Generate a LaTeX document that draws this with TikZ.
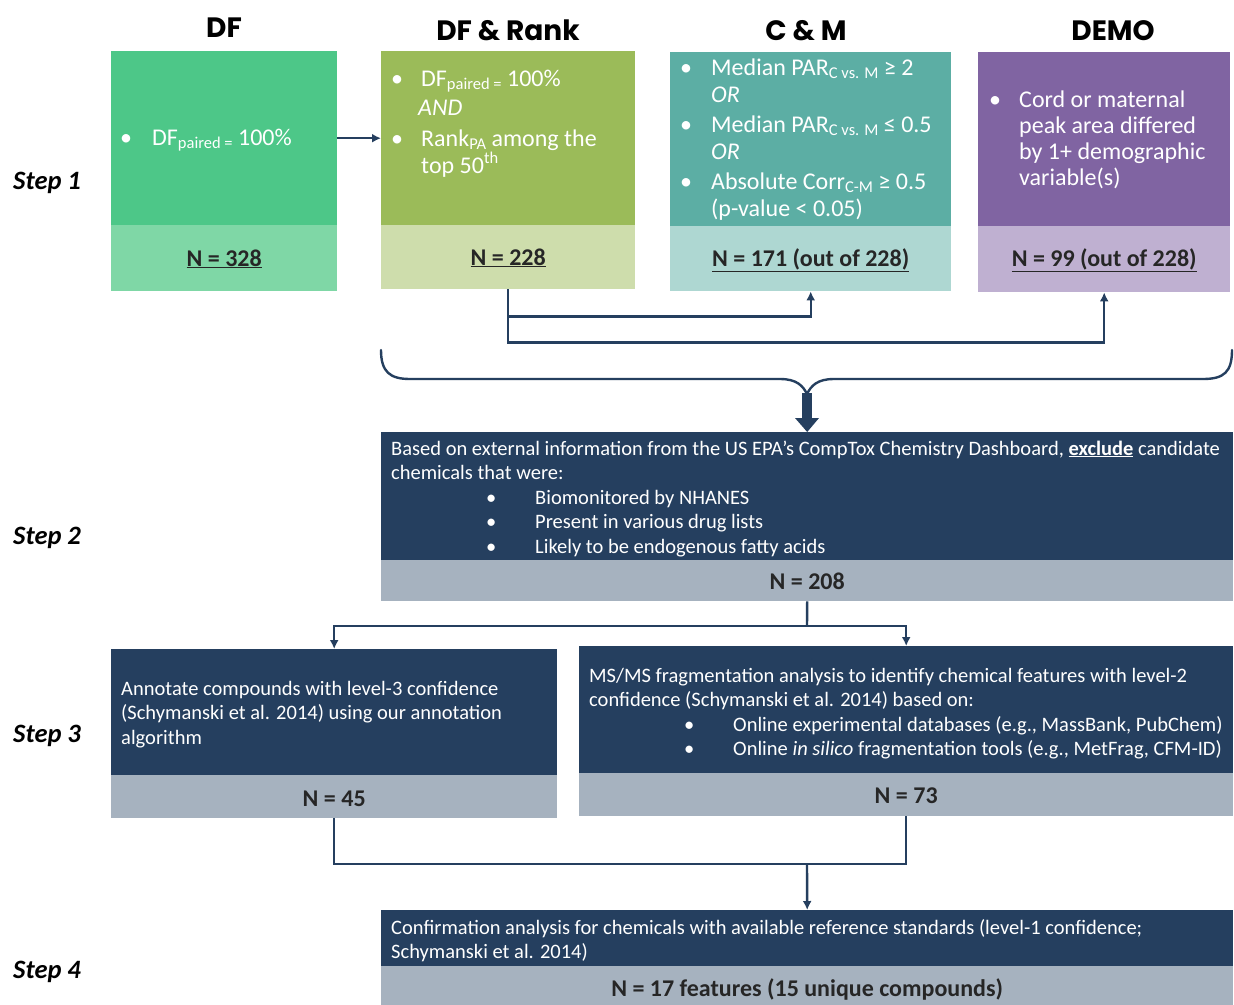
\documentclass[tikz,border=0pt]{standalone}
\usepackage{fontspec}
\setmainfont{Carlito}
\newfontfamily\hdfont{Poppins}
\newfontfamily\condfont{Carlito}
\usetikzlibrary{arrows.meta,calc}
\definecolor{navy}{HTML}{253F5F}
\definecolor{grayb}{HTML}{A6B2BF}
\definecolor{dftopc}{HTML}{4DC788}
\definecolor{dfbotc}{HTML}{7FD7A6}
\definecolor{rktopc}{HTML}{9BBB59}
\definecolor{rkbotc}{HTML}{CEDDAC}
\definecolor{cmtopc}{HTML}{5CAEA4}
\definecolor{cmbotc}{HTML}{AED7D2}
\definecolor{dmtopc}{HTML}{8064A2}
\definecolor{dmbotc}{HTML}{BFB0D1}
\definecolor{ntext}{HTML}{262626}
\newcommand{\mysub}[1]{\raisebox{-0.3ex}{\fontsize{16.5}{16.5}\selectfont #1}}
\newcommand{\mysup}[1]{\raisebox{0.85ex}{\fontsize{16.5}{16.5}\selectfont #1}}
\newcommand{\nline}[1]{\underline{#1}}
\begin{document}
\begin{tikzpicture}[x=1pt,y=-1pt,
  boxr/.style={draw=none,inner sep=0,anchor=north west},
  hd/.style={font=\hdfont\bfseries\fontsize{28}{32}\selectfont,anchor=base,inner sep=0},
  wt/.style={font=\fontsize{24}{28}\selectfont,text=white,anchor=base west,inner sep=0},
  nt/.style={font=\bfseries\fontsize{24}{28}\selectfont,text=ntext,anchor=base,inner sep=0},
  ct/.style={font=\condfont\fontsize{20.5}{24}\selectfont,text=white,anchor=base west,inner sep=0},
  cn/.style={font=\condfont\bfseries\fontsize{24}{28}\selectfont,text=ntext,anchor=base,inner sep=0},
  steplbl/.style={font=\bfseries\itshape\fontsize{26.5}{30}\selectfont,anchor=base west,inner sep=0},
  conn/.style={draw=navy,line width=2.4pt},
  arr/.style={conn,-{Latex[length=9pt,width=9pt]}}
]
\useasboundingbox (0,0) rectangle (1234,1004);
\fill[white] (0,0) rectangle (1234,1004);

% Step labels
\node[steplbl] (st1) at (13,189) {Step 1};
\node[steplbl] (st2) at (13,544) {Step 2};
\node[steplbl] (st3) at (13,742) {Step 3};
\node[steplbl] (st4) at (13,978) {Step 4};

% Headers
\node[hd] (h1) at (224,37) {DF};
\node[hd] (h2) at (508,40) {DF \& Rank};
\node[hd] (h3) at (806,40) {C \& M};
\node[hd] (h4) at (1113,40) {DEMO};

% Step 1 boxes
\node[boxr,fill=dftopc,minimum width=226pt,minimum height=174pt] (dftop) at (111,51) {};
\node[boxr,fill=dfbotc,minimum width=226pt,minimum height=66pt] (dfbot) at (111,225) {};
\node[boxr,fill=rktopc,minimum width=254pt,minimum height=174pt] (rktop) at (381,51) {};
\node[boxr,fill=rkbotc,minimum width=254pt,minimum height=64pt] (rkbot) at (381,225) {};
\node[boxr,fill=cmtopc,minimum width=281pt,minimum height=174pt] (cmtop) at (670,52) {};
\node[boxr,fill=cmbotc,minimum width=281pt,minimum height=65pt] (cmbot) at (670,226) {};
\node[boxr,fill=dmtopc,minimum width=252pt,minimum height=174pt] (dmtop) at (978,52) {};
\node[boxr,fill=dmbotc,minimum width=252pt,minimum height=66pt] (dmbot) at (978,226) {};

% DF text
\node[wt] (dfb1) at (120,145) {•};
\node[wt] (dft1) at (152,145) {DF\mysub{paired =} 100\%};
\node[nt] (dfn) at (dfbot.center |- 0,266) {\nline{N = 328}};

% Rank text
\node[wt] (rkb1) at (391,86) {•};
\node[wt] (rkt1) at (421,86) {DF\mysub{paired =} 100\%};
\node[wt] (rkt2) at (418,115) {\itshape AND};
\node[wt] (rkb2) at (391,146) {•};
\node[wt] (rkt3) at (421,146) {Rank\mysub{PA} among the};
\node[wt] (rkt4) at (421,173) {top 50\mysup{th}};
\node[nt] (rkn) at (rkbot.center |- 0,265) {\nline{N = 228}};

% C&M text
\node[wt] (cmb1) at (680,75) {•};
\node[wt] (cmt1) at (711,75) {Median PAR\mysub{C vs. M} ≥ 2};
\node[wt] (cmt2) at (711,102) {\itshape OR};
\node[wt] (cmb2) at (680,132) {•};
\node[wt] (cmt3) at (711,132) {Median PAR\mysub{C vs. M} ≤ 0.5};
\node[wt] (cmt4) at (711,159) {\itshape OR};
\node[wt] (cmb3) at (680,189) {•};
\node[wt] (cmt5) at (711,189) {Absolute Corr\mysub{C-M} ≥ 0.5};
\node[wt] (cmt6) at (711,216) {(p-value < 0.05)};
\node[nt] (cmn) at (cmbot.center |- 0,266) {\nline{N = 171 (out of 228)}};

% DEMO text
\node[wt] (dmb1) at (989,107) {•};
\node[wt] (dmt1) at (1019,107) {Cord or maternal};
\node[wt] (dmt2) at (1019,133) {peak area differed};
\node[wt] (dmt3) at (1019,159) {by 1+ demographic};
\node[wt] (dmt4) at (1019,185) {variable(s)};
\node[nt] (dmn) at (dmbot.center |- 0,266) {\nline{N = 99 (out of 228)}};

% Step 1 connectors
\draw[arr] (dftop.east) -- (rktop.west);
\draw[arr] (rkbot.south) |- ($(cmbot.south)+(0,25)$) -- (cmbot.south);
\draw[arr] (rkbot.south) |- ($(dmbot.south)+(0,50)$) -- (dmbot.south);

% Step 2 box
\node[boxr,fill=navy,minimum width=852pt,minimum height=128pt] (s2top) at (381,432) {};
\node[boxr,fill=grayb,minimum width=852pt,minimum height=41pt] (s2bot) at (381,560) {};

% Brace and big arrow
\coordinate (bl) at (381,350);
\coordinate (br) at (1232,350);
\coordinate (bj) at (807,394);
\draw[conn,line cap=round] (bl) .. controls (381,372) and (390,379) .. (410,379) -- (780,379) .. controls (797,379) and (803,386) .. (bj)
  .. controls (811,386) and (817,379) .. (834,379) -- (1203,379) .. controls (1224,379) and (1232,372) .. (br);
\fill[navy] ($(bj)+(-5,-1)$) rectangle ($(bj)+(5,25)$);
\fill[navy] ($(bj)+(-12,24)$) -- ($(bj)+(12,24)$) -- (s2top.north) -- cycle;

\node[ct] (s2t1) at (391,455) {Based on external information from the US EPA’s CompTox Chemistry Dashboard, \textbf{\underline{exclude}} candidate};
\node[ct] (s2t2) at (391,479) {chemicals that were:};
\node[ct] (s2b1) at (486,504) {•};
\node[ct] (s2t3) at (535,504) {Biomonitored by NHANES};
\node[ct] (s2b2) at (486,528) {•};
\node[ct] (s2t4) at (535,528) {Present in various drug lists};
\node[ct] (s2b3) at (486,553) {•};
\node[ct] (s2t5) at (535,553) {Likely to be endogenous fatty acids};
\node[cn] (s2n) at (s2bot.center |- 0,589) {N = 208};

% Step 3 boxes
\node[boxr,fill=navy,minimum width=446pt,minimum height=126pt] (s3ltop) at (111,649) {};
\node[boxr,fill=grayb,minimum width=446pt,minimum height=43pt] (s3lbot) at (111,775) {};
\node[boxr,fill=navy,minimum width=654pt,minimum height=127pt] (s3rtop) at (579,646) {};
\node[boxr,fill=grayb,minimum width=654pt,minimum height=43pt] (s3rbot) at (579,773) {};

\coordinate (split) at (807,626);
\draw[conn] (s2bot.south) -- (split);
\draw[arr] (split) -| (s3ltop.north);
\draw[arr] (split) -| (s3rtop.north);

\node[ct] (s3lt1) at (121,695) {Annotate compounds with level-3 confidence};
\node[ct] (s3lt2) at (121,719) {(Schymanski et al. 2014) using our annotation};
\node[ct] (s3lt3) at (121,744) {algorithm};
\node[cn] (s3ln) at (s3lbot.center |- 0,806) {N = 45};

\node[ct] (s3rt1) at (589,682) {MS/MS fragmentation analysis to identify chemical features with level-2};
\node[ct] (s3rt2) at (589,706) {confidence (Schymanski et al. 2014) based on:};
\node[ct] (s3rb1) at (684,731) {•};
\node[ct] (s3rt3) at (733,731) {Online experimental databases (e.g., MassBank, PubChem)};
\node[ct] (s3rb2) at (684,755) {•};
\node[ct] (s3rt4) at (733,755) {Online \textit{in silico} fragmentation tools (e.g., MetFrag, CFM-ID)};
\node[cn] (s3rn) at (s3rbot.center |- 0,803) {N = 73};

% Step 4 box
\node[boxr,fill=navy,minimum width=852pt,minimum height=56pt] (s4top) at (381,910) {};
\node[boxr,fill=grayb,minimum width=852pt,minimum height=40pt] (s4bot) at (381,966) {};

\coordinate (join) at (807,864);
\draw[conn] (s3lbot.south) |- (join);
\draw[conn] (s3rbot.south) |- (join);
\draw[arr] (join) -- (s4top.north);

\node[ct] (s4t1) at (391,934) {Confirmation analysis for chemicals with available reference standards (level-1 confidence;};
\node[ct] (s4t2) at (391,958) {Schymanski et al. 2014)};
\node[cn] (s4n) at (s4bot.center |- 0,996) {N = 17 features (15 unique compounds)};
\end{tikzpicture}
\end{document}
